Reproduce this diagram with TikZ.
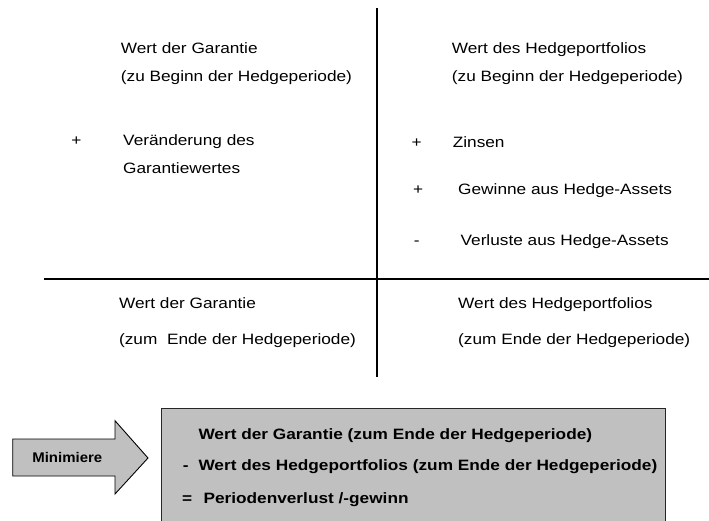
\documentclass[tikz,border=0pt]{standalone}
\usepackage{fontspec}
\setmainfont{Liberation Sans}[FakeStretch=1.15]
\newfontfamily\minfont{Liberation Sans}[FakeStretch=1.07]
\definecolor{boxgray}{RGB}{192,192,192}
\tikzset{
  txt/.style={anchor=base west, inner sep=0pt, font=\fontsize{15}{18}\selectfont},
  btxt/.style={anchor=base west, inner sep=0pt, font=\fontsize{15}{18}\selectfont\bfseries},
  divider/.style={line width=2pt, black},
  shapefill/.style={fill=boxgray, draw=black, line width=0.9pt}
}
\begin{document}
\begin{tikzpicture}[x=1pt,y=-1pt]
\useasboundingbox (0,0) rectangle (709,520);
\fill[white] (0,0) rectangle (709,520);
% dividing cross
\coordinate (vtop) at (376.7,8.3);
\coordinate (vbot) at (376.7,376.7);
\coordinate (hleft) at (44,279.3);
\coordinate (hright) at (709,279.3);
\draw[divider] (vtop) -- (vbot);
\draw[divider] (hleft) -- (hright);
% top left
\node[txt] (tl1) at (120.7,53) {Wert der Garantie};
\node[txt] (tl2) at (120.7,81.5) {(zu Beginn der Hedgeperiode)};
% top right
\node[txt] (tr1) at (451.7,53) {Wert des Hedgeportfolios};
\node[txt] (tr2) at (451.7,81.5) {(zu Beginn der Hedgeperiode)};
% middle left
\node[txt] (pl) at (71.2,145) {+};
\node[txt] (ml1) at (123,145) {Veränderung des};
\node[txt] (ml2) at (123,173) {Garantiewertes};
% middle right
\node[txt] (pr1) at (411.4,147) {+};
\node[txt] (zins) at (452.6,147) {Zinsen};
\node[txt] (pr2) at (413,194) {+};
\node[txt] (gew) at (458,194) {Gewinne aus Hedge-Assets};
\node[txt] (mr3) at (413.6,245) {-};
\node[txt] (verl) at (460.4,245) {Verluste aus Hedge-Assets};
% bottom left
\node[txt] (bl1) at (118.9,308.5) {Wert der Garantie};
\node[txt] (bl2) at (118.9,344.5) {(zum~ Ende der Hedgeperiode)};
% bottom right
\node[txt] (br1) at (458,308.5) {Wert des Hedgeportfolios};
\node[txt] (br2) at (458,344.5) {(zum Ende der Hedgeperiode)};
% arrow
\draw[shapefill] (12.7,439) -- (115,439) -- (115,420.7) -- (148,458) -- (115,494) -- (115,476) -- (12.7,476) -- cycle;
\node[inner sep=0pt, font=\minfont\fontsize{14}{16}\selectfont\bfseries] (mini) at (67.3,457) {Minimiere};
% result box
\draw[shapefill, draw=black!85] (161,408.3) rectangle (665.7,522);
\node[btxt] (b1) at (198.3,439) {Wert der Garantie (zum Ende der Hedgeperiode)};
\node[btxt] (b2m) at (182.7,470.5) {-};
\node[btxt] (b2) at (198.3,470.5) {Wert des Hedgeportfolios (zum Ende der Hedgeperiode)};
\node[btxt] (b3e) at (182,503) {=};
\node[btxt] (b3) at (203.3,503) {Periodenverlust /-gewinn};
\end{tikzpicture}
\end{document}
